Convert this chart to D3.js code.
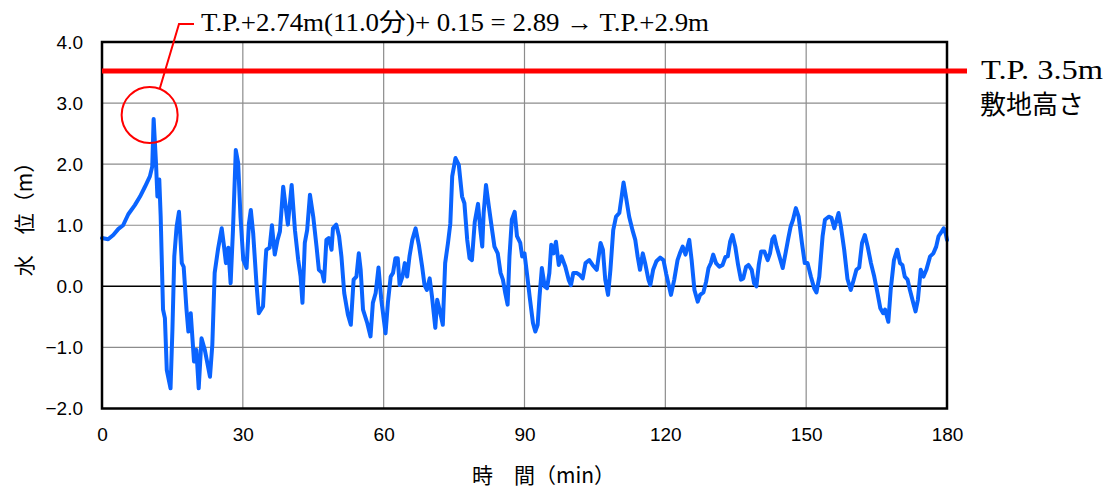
<!DOCTYPE html>
<html><head><meta charset="utf-8">
<script src="https://cdn.jsdelivr.net/npm/d3@7"></script>
<style>
html,body{margin:0;padding:0;background:#fff;}
svg{display:block;}
</style>
</head><body>
<svg id="chart" width="1111" height="492"></svg>
<script>
// ---- data ----
const timeMin = [0,1.3,2.4,3.5,4.5,5.6,7.0,8.1,9.15,10.2,10.7,11.0,11.5,11.8,12.2,12.5,13.0,13.4,13.8,14.6,15.0,15.4,15.9,16.4,17.0,17.4,18.0,18.4,18.9,19.6,20.1,20.6,21.2,21.9,23.0,23.5,24.0,24.7,25.5,26.0,26.4,26.9,27.4,27.9,28.5,29.0,29.5,30.1,30.8,31.3,31.7,32.2,32.9,33.4,34.3,34.8,35.0,35.7,36.2,36.8,37.4,37.9,38.6,39.6,40.4,41.1,41.8,42.3,42.7,43.2,43.7,44.3,45.0,45.7,46.2,46.9,47.3,47.8,48.3,48.9,49.2,49.9,50.5,51.0,51.6,52.4,53.0,53.6,54.2,54.7,55.1,55.6,56.5,57.2,57.7,58.3,58.9,59.5,60.4,60.9,61.5,62.0,62.5,63.0,63.4,64.0,64.5,65.0,65.5,66.1,66.8,67.5,68.2,68.7,69.2,69.8,70.3,71.0,71.4,71.9,72.6,73.1,73.7,74.2,74.6,75.3,76.0,76.7,77.2,77.8,78.3,78.8,79.4,80.1,80.6,81.0,81.3,81.8,82.4,83.1,83.6,84.3,84.9,85.4,85.9,86.4,86.8,87.3,87.9,88.4,89.1,89.5,90.0,90.6,91.1,91.8,92.3,92.8,93.2,93.7,94.3,94.8,95.3,95.7,96.2,96.7,97.3,97.9,98.7,99.4,99.9,100.4,101.1,101.7,102.4,103.0,103.8,104.5,105.4,106.2,106.7,107.2,107.8,108.3,108.9,109.5,110.2,110.7,111.1,111.6,112.3,113.0,113.6,114.1,114.6,115.2,115.7,116.4,116.8,117.4,118.1,118.9,119.6,120.2,121.2,121.9,122.6,123.1,123.7,124.3,125.1,125.6,126.2,126.9,127.4,128.1,128.7,129.2,129.7,130.2,130.8,131.5,132.2,132.8,133.3,133.8,134.3,134.9,135.5,136.1,136.6,137.2,137.7,138.4,138.9,139.4,139.9,140.4,141.1,141.8,142.3,142.8,143.2,143.7,144.3,145.0,145.6,146.2,146.7,147.2,147.8,148.4,149.1,149.7,150.3,151.0,151.7,152.2,152.8,153.5,154.0,154.8,155.4,156.0,156.5,156.9,157.4,158.1,158.8,159.5,160.1,160.7,161.3,161.9,162.5,163.1,163.8,164.5,165.2,165.8,166.4,166.8,167.5,168.0,168.7,169.4,170.0,170.5,171.0,171.6,172.1,172.8,173.3,173.8,174.4,175.0,175.6,176.4,177.1,177.7,178.2,178.9,179.3,179.7,180.0];
const waterLevel = [0.79,0.77,0.84,0.94,1.0,1.18,1.33,1.47,1.63,1.80,1.96,2.74,2.02,1.47,1.75,1.14,-0.38,-0.52,-1.37,-1.67,-0.71,0.49,0.98,1.22,0.38,0.32,-0.38,-0.74,-0.44,-1.23,-1.04,-1.67,-0.85,-1.04,-1.48,-0.96,0.22,0.60,0.95,0.65,0.38,0.63,0.05,0.92,2.23,2.02,1.14,0.43,0.30,1.03,1.25,0.87,0.05,-0.44,-0.33,0.38,0.60,0.63,1.0,0.52,0.76,0.90,1.63,1.01,1.66,0.92,0.43,0.16,-0.27,0.71,0.92,1.50,1.14,0.65,0.27,0.22,0.08,0.76,0.79,0.60,0.95,1.01,0.82,0.49,-0.11,-0.47,-0.63,0.11,0.16,0.54,0.27,-0.38,-0.60,-0.82,-0.27,-0.11,0.31,-0.22,-0.77,-0.27,0.16,0.22,0.46,0.46,0.02,0.16,0.38,0.16,0.49,0.76,0.95,0.68,0.32,0.02,-0.06,0.13,-0.17,-0.68,-0.22,-0.38,-0.63,0.38,0.71,1.03,1.80,2.10,1.99,1.47,1.36,0.76,0.46,0.43,1.05,1.35,0.92,0.65,1.20,1.66,1.31,0.92,0.65,0.54,0.22,0.11,-0.11,-0.30,0.49,1.09,1.22,0.82,0.71,0.49,0.54,0.16,-0.17,-0.60,-0.74,-0.63,-0.17,0.30,0.0,-0.03,0.22,0.68,0.54,0.73,0.35,0.49,0.32,0.11,0.02,0.22,0.22,0.19,0.13,0.38,0.43,0.35,0.27,0.71,0.60,0.11,-0.14,0.27,0.92,1.14,1.20,1.47,1.70,1.47,1.14,0.92,0.76,0.49,0.27,0.54,0.38,0.11,0.02,0.27,0.41,0.47,0.43,0.20,-0.14,0.11,0.43,0.54,0.65,0.52,0.76,0.43,-0.06,-0.25,-0.14,-0.10,0.08,0.30,0.38,0.52,0.38,0.32,0.35,0.48,0.49,0.73,0.84,0.65,0.35,0.11,0.13,0.32,0.35,0.27,0.05,0.0,0.35,0.57,0.57,0.43,0.54,0.77,0.82,0.65,0.49,0.30,0.54,0.79,0.98,1.09,1.28,1.14,0.71,0.38,0.38,0.16,-0.03,-0.10,0.16,0.82,1.09,1.14,1.12,0.95,1.09,1.20,0.98,0.60,0.12,-0.06,0.10,0.27,0.31,0.71,0.84,0.65,0.38,0.16,-0.11,-0.36,-0.44,-0.38,-0.58,-0.06,0.43,0.60,0.38,0.35,0.16,0.11,-0.06,-0.27,-0.41,-0.22,0.27,0.16,0.27,0.49,0.54,0.65,0.82,0.90,0.95,0.87,0.76];
const xTicks = [0,30,60,90,120,150,180];
const yTicks = [-2,-1,0,1,2,3,4];
const siteHeight = 3.5;
const peak = {t:11.0, v:2.74};
const annotationText = "T.P.+2.74m(11.0分)+ 0.15 = 2.89 → T.P.+2.9m";
const siteLabel1 = "T.P. 3.5m";
const siteLabel2 = "敷地高さ";
const xTitle = "時　間（min）";
const yTitle = "水　位（m）";

// ---- layout ----
const L = 102, R = 947, T = 42, B = 408.5;
const svg = d3.select("#chart");
const x = d3.scaleLinear().domain([0,180]).range([L,R]);
const y = d3.scaleLinear().domain([-2,4]).range([B,T]);
const sans = "'Liberation Sans', Arial, 'Noto Sans CJK JP', sans-serif";
const serif = "'Liberation Serif', 'Times New Roman', 'Noto Sans CJK JP', serif";
const cjk = "'Noto Sans CJK JP', sans-serif";

// grid
const g = svg.append("g");
g.selectAll("line.h").data(yTicks.filter(d=>d!==0 && d!==-2 && d!==4)).enter().append("line")
  .attr("x1",L).attr("x2",R).attr("y1",d=>y(d)).attr("y2",d=>y(d))
  .attr("stroke","#8c8c8c").attr("stroke-width",1.2);
g.selectAll("line.v").data(xTicks.filter(d=>d!==0 && d!==180)).enter().append("line")
  .attr("y1",T).attr("y2",B).attr("x1",d=>x(d)).attr("x2",d=>x(d))
  .attr("stroke","#8c8c8c").attr("stroke-width",1.2);
g.append("line").attr("x1",L).attr("x2",R).attr("y1",y(0)).attr("y2",y(0))
  .attr("stroke","#000").attr("stroke-width",1.5);

// axes labels via d3 axes
const yAxis = d3.axisLeft(y).tickValues(yTicks).tickSize(0).tickPadding(19)
  .tickFormat(d => (d<0 ? "−" : "") + Math.abs(d).toFixed(1));
const ya = svg.append("g").attr("transform",`translate(${L},0)`).call(yAxis);
ya.select(".domain").remove();
ya.selectAll("text").attr("font-family",sans).attr("font-size",19).attr("fill","#000");

const xAxis = d3.axisBottom(x).tickValues(xTicks).tickSize(0).tickPadding(19).tickFormat(d3.format("d"));
const xa = svg.append("g").attr("transform",`translate(0,${B})`).call(xAxis);
xa.select(".domain").remove();
xa.selectAll("text").attr("font-family",sans).attr("font-size",19).attr("fill","#000");

// titles
svg.append("text").attr("x",472).attr("y",483).attr("font-family",cjk).attr("font-size",21)
  .attr("fill","#000").text(xTitle);
svg.append("text").attr("transform","translate(32,214) rotate(-90)").attr("text-anchor","middle")
  .attr("font-family",cjk).attr("font-size",21).attr("fill","#000").text(yTitle);

// data line
const line = d3.line().x((d,i)=>x(timeMin[i])).y((d,i)=>y(waterLevel[i])).curve(d3.curveLinear);
svg.append("path").datum(waterLevel).attr("d",line).attr("fill","none")
  .attr("stroke","#0a64ff").attr("stroke-width",4).attr("stroke-linejoin","round").attr("stroke-linecap","round");

// frame
svg.append("rect").attr("x",L).attr("y",T).attr("width",R-L).attr("height",B-T)
  .attr("fill","none").attr("stroke","#000").attr("stroke-width",2.5);

// site height line
svg.append("line").attr("x1",L).attr("x2",967).attr("y1",y(siteHeight)-1.5).attr("y2",y(siteHeight)-1.5)
  .attr("stroke","#ff0000").attr("stroke-width",5);
svg.append("text").attr("x",981).attr("y",79).attr("font-family",serif).attr("font-size",27)
  .attr("textLength",122).attr("lengthAdjust","spacingAndGlyphs").attr("fill","#000").text(siteLabel1);
svg.append("text").attr("x",980).attr("y",114).attr("font-family",cjk).attr("font-size",26)
  .attr("fill","#000").text(siteLabel2);

// annotation circle + leader
const cx = x(peak.t) - 4, cy = y(peak.v) - 4;
svg.append("circle").attr("cx",cx).attr("cy",cy).attr("r",28)
  .attr("fill","none").attr("stroke","#ff0000").attr("stroke-width",2);
svg.append("polyline").attr("points",`${cx+10},${cy-26} ${179},24 ${194},24`)
  .attr("fill","none").attr("stroke","#ff0000").attr("stroke-width",2);
svg.append("text").attr("x",201).attr("y",31).attr("font-family",serif).attr("font-size",25)
  .attr("textLength",508).attr("lengthAdjust","spacingAndGlyphs").attr("fill","#000").text(annotationText);
</script>
</body></html>
